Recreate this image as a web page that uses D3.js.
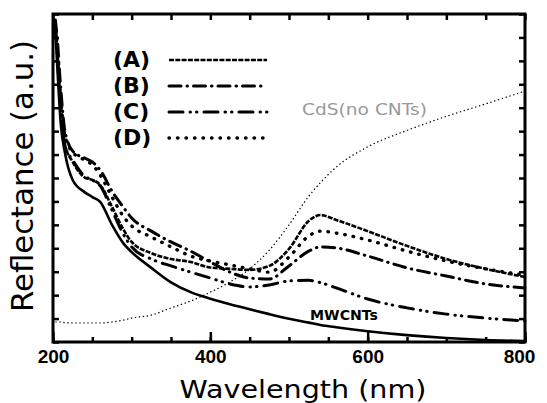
<!DOCTYPE html>
<html>
<head>
<meta charset="utf-8">
<script src="https://cdn.jsdelivr.net/npm/d3@7"></script>
<style>
  html, body { margin: 0; padding: 0; background: #fff; }
  svg { display: block; font-family: "DejaVu Sans", sans-serif; }
</style>
</head>
<body>
<div id="chart"></div>
<script>
// wavelength grid (nm) shared by every curve
var wavelengths = [203, 205, 210, 215, 225, 240, 250, 260, 275, 290, 300, 325, 350, 375, 400,
    425, 450, 475, 500, 525, 540, 560, 600, 650, 700, 750, 800];

// reflectance, arbitrary units (0 = bottom of frame, 100 = top)
var seriesA = [96.6, 90.5, 72.3, 60.4, 54.9, 50.2, 49.4, 47.9, 41.2, 34.1, 30.5, 27.1, 25.3, 24.4, 22.7,
    22.3, 22.0, 23.2, 28.4, 36.9, 38.7, 37.2, 33.8, 29.3, 25.3, 22.3, 19.8];
var seriesB = [98.2, 93.6, 76.8, 64.6, 58.2, 56.1, 54.9, 52.4, 46.0, 40.9, 37.8, 33.8, 30.5, 27.7, 24.4,
    21.3, 19.5, 19.2, 23.2, 27.7, 29.0, 28.7, 26.2, 22.6, 20.1, 17.7, 16.5];
var seriesC = [96.6, 89.0, 70.7, 60.1, 55.5, 50.6, 49.4, 47.6, 40.2, 32.6, 29.0, 25.3, 23.2, 21.3, 19.5,
    17.7, 16.8, 17.4, 18.6, 18.8, 18.1, 16.5, 13.1, 10.4, 8.5, 7.3, 6.4];
var seriesD = [97.6, 92.1, 73.8, 63.1, 57.9, 55.5, 54.0, 50.9, 44.2, 38.1, 35.4, 32.0, 29.0, 26.2, 24.7,
    23.5, 22.3, 21.3, 25.9, 32.3, 33.8, 33.2, 31.1, 27.7, 24.7, 22.3, 20.4];
var seriesMWCNT = [95.1, 86.0, 66.2, 57.9, 49.4, 45.7, 44.2, 42.7, 35.7, 29.9, 27.4, 22.6, 18.2, 15.2, 13.2,
    11.5, 10.0, 8.5, 7.1, 5.9, 5.2, 4.5, 3.3, 2.1, 1.2, 0.6, 0.3];
var seriesCdS = [6.1, 6.1, 6.1, 5.9, 5.8, 5.8, 5.8, 5.8, 6.1, 6.7, 7.3, 8.2, 10.4, 12.5, 15.2,
    18.3, 22.3, 28.0, 35.7, 44.4, 48.6, 53.3, 59.5, 64.5, 68.8, 72.6, 76.5];

var legendNames = ["(A)", "(B)", "(C)", "(D)"];
var xMajorTicks = [200, 400, 600, 800];
var xMinorTicks = d3.range(200, 801, 50);
var yTicks = d3.range(0, 15).map(function (i) { return i * 100 / 14; });

// line styles
var styleA = { dash: "5,1.3", width: 2.6, cap: "butt" };
var styleB = { dash: "12,6,0.5,6", width: 3, cap: "round" };
var styleC = { dash: "14,7,0.5,6,0.5,7", width: 3, cap: "round" };
var styleD = { dash: "0.5,8", width: 3.4, cap: "round" };
var styleSolid = { dash: null, width: 2.6, cap: "round" };
var styleCdS = { dash: "1.4,2.6", width: 1.2, cap: "butt" };

var vMargin = { mTop: 14, mRight: 22, mBottom: 61, mLeft: 53 },
    vWidth = 547 - vMargin.mLeft - vMargin.mRight,
    vHeight = 403 - vMargin.mTop - vMargin.mBottom;

var svg = d3.select("#chart")
    .append("svg")
    .attr("width", 547)
    .attr("height", 403)
    .append("g")
    .attr("transform", "translate(" + vMargin.mLeft + "," + vMargin.mTop + ")");

var x = d3.scaleLinear().domain([200, 800]).range([0, vWidth]);
var y = d3.scaleLinear().domain([0, 100]).range([vHeight, 0]);

var line = d3.line()
    .x(function (d) { return x(d[0]); })
    .y(function (d) { return y(d[1]); })
    .curve(d3.curveMonotoneX);

function drawCurve(values, style) {
    svg.append("path")
        .datum(d3.zip(wavelengths, values))
        .attr("fill", "none")
        .attr("stroke", "#000")
        .attr("stroke-width", style.width)
        .attr("stroke-linecap", style.cap)
        .attr("stroke-linejoin", "round")
        .attr("stroke-dasharray", style.dash)
        .attr("d", line);
}

drawCurve(seriesCdS, styleCdS);
drawCurve(seriesMWCNT, styleSolid);
drawCurve(seriesC, styleC);
drawCurve(seriesB, styleB);
drawCurve(seriesD, styleD);
drawCurve(seriesA, styleA);

// axes: ticks point inward on all four sides
function styleAxis(g) {
    g.select(".domain").remove();
    g.selectAll(".tick line").attr("stroke", "#000").attr("stroke-width", 2.5);
}

svg.append("g")
    .attr("transform", "translate(0," + vHeight + ")")
    .call(d3.axisBottom(x).tickValues(xMinorTicks).tickSize(-5).tickFormat(""))
    .call(styleAxis);
svg.append("g")
    .attr("transform", "translate(0," + vHeight + ")")
    .call(d3.axisBottom(x).tickValues(xMajorTicks).tickSize(-10).tickPadding(8).tickFormat(d3.format("d")))
    .call(styleAxis)
    .selectAll("text")
    .attr("fill", "#000")
    .attr("dx", function (d) { return d === 800 ? -6 : 0; })
    .style("font-size", "19px")
    .style("font-weight", "bold");
svg.append("g")
    .call(d3.axisTop(x).tickValues(xMinorTicks).tickSize(-6).tickFormat(""))
    .call(styleAxis);
svg.append("g")
    .call(d3.axisLeft(y).tickValues(yTicks).tickSize(-6).tickFormat(""))
    .call(styleAxis);
svg.append("g")
    .attr("transform", "translate(" + vWidth + ",0)")
    .call(d3.axisRight(y).tickValues(yTicks).tickSize(-6).tickFormat(""))
    .call(styleAxis);

// frame
svg.append("rect")
    .attr("x", 0)
    .attr("y", 0)
    .attr("width", vWidth)
    .attr("height", vHeight)
    .attr("fill", "none")
    .attr("stroke", "#000")
    .attr("stroke-width", 3);

// axis titles
svg.append("text")
    .attr("x", 250)
    .attr("y", vHeight + 56)
    .attr("text-anchor", "middle")
    .attr("textLength", 247)
    .attr("lengthAdjust", "spacingAndGlyphs")
    .style("font-size", "25px")
    .text("Wavelength (nm)");
svg.append("text")
    .attr("transform", "translate(" + (33 - vMargin.mLeft) + "," + (176 - vMargin.mTop) + ") rotate(-90)")
    .attr("text-anchor", "middle")
    .attr("textLength", 272)
    .attr("lengthAdjust", "spacingAndGlyphs")
    .style("font-size", "30px")
    .text("Reflectance (a.u.)");

// legend
var legendStyles = [styleA, styleB, styleC, styleD];
var legend = svg.selectAll(".legend")
    .data(legendNames)
    .enter()
    .append("g")
    .attr("class", "legend")
    .attr("transform", function (d, i) { return "translate(0," + (60 - vMargin.mTop + i * 26) + ")"; });
legend.append("text")
    .attr("x", 113 - vMargin.mLeft)
    .attr("y", 7)
    .style("font-size", "22px")
    .style("font-weight", "bold")
    .text(function (d) { return d; });
legend.append("line")
    .attr("x1", 169 - vMargin.mLeft)
    .attr("x2", 267 - vMargin.mLeft)
    .attr("y1", 0)
    .attr("y2", 0)
    .attr("stroke", "#000")
    .attr("stroke-width", function (d, i) { return legendStyles[i].width; })
    .attr("stroke-linecap", function (d, i) { return legendStyles[i].cap; })
    .attr("stroke-dasharray", function (d, i) { return legendStyles[i].dash; });

// curve labels
svg.append("text")
    .attr("x", 310 - vMargin.mLeft)
    .attr("y", 320 - vMargin.mTop)
    .attr("textLength", 68)
    .attr("lengthAdjust", "spacingAndGlyphs")
    .style("font-size", "14px")
    .style("font-weight", "bold")
    .text("MWCNTs");
svg.append("text")
    .attr("x", 302 - vMargin.mLeft)
    .attr("y", 115 - vMargin.mTop)
    .attr("textLength", 125)
    .attr("lengthAdjust", "spacingAndGlyphs")
    .attr("fill", "#999")
    .style("font-size", "16px")
    .text("CdS(no CNTs)");
</script>
</body>
</html>
